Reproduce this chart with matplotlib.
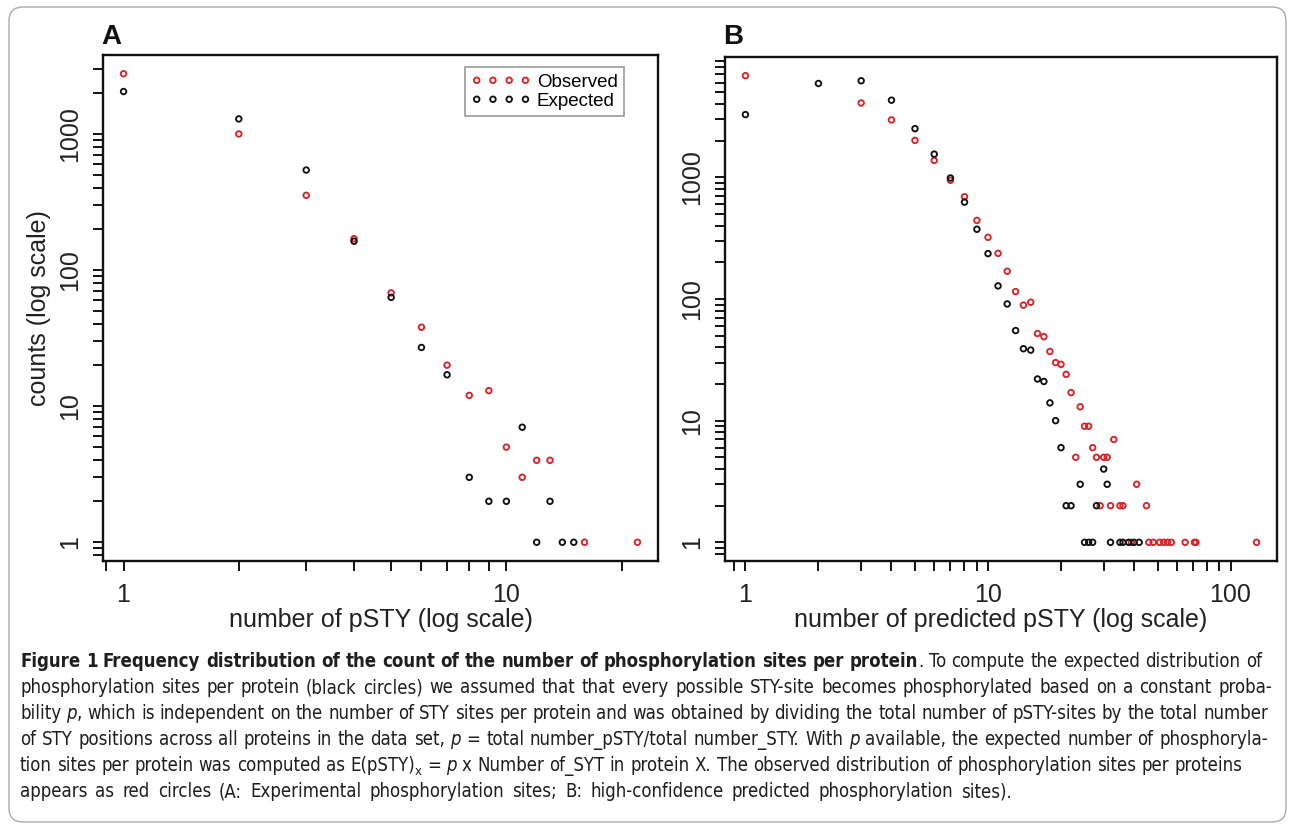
import numpy as np
import matplotlib
matplotlib.use('Agg')
import matplotlib.pyplot as plt
from matplotlib import font_manager
from matplotlib.patches import FancyBboxPatch
from matplotlib.transforms import IdentityTransform
from matplotlib.ticker import FixedLocator, NullFormatter

# panel A - experimental phosphorylation sites
a_obs_x = [1, 2, 3, 4, 5, 6, 7, 8, 9, 10, 11, 12, 13, 16, 22]
a_obs_y = [2770, 1000, 354, 170, 68, 38, 20, 12, 13, 5, 3, 4, 4, 1, 1]
a_exp_x = [1, 2, 3, 4, 5, 6, 7, 8, 9, 10, 11, 12, 13, 14, 15]
a_exp_y = [2050, 1290, 543, 163, 63, 27, 17, 3, 2, 2, 7, 1, 2, 1, 1]

# panel B - high-confidence predicted sites
b_obs_x = [1, 3, 4, 5, 6, 7, 8, 9, 10, 11, 12, 13, 14, 15, 16, 17, 18, 19, 20,
           21, 22, 23, 24, 25, 26, 27, 28, 29, 30, 31, 32, 33, 35, 36, 39, 41,
           45, 46, 48, 51, 53, 55, 57, 65, 71, 72, 128]
b_obs_y = [6840, 4080, 2960, 2010, 1375, 945, 692, 442, 321, 237, 169, 115, 89,
           94, 52, 49, 37, 30, 29, 24, 17, 5, 13, 9, 9, 6, 5, 2, 5, 5, 2, 7, 2,
           2, 1, 3, 2, 1, 1, 1, 1, 1, 1, 1, 1, 1, 1]
b_exp_x = [1, 2, 3, 4, 5, 6, 7, 8, 9, 10, 11, 12, 13, 14, 15, 16, 17, 18, 19,
           20, 21, 22, 24, 25, 26, 27, 28, 30, 31, 32, 35, 36, 38, 40, 42]
b_exp_y = [3275, 5900, 6210, 4300, 2510, 1550, 987, 625, 374, 236, 128, 91, 55,
           39, 38, 22, 21, 14, 10, 6, 2, 2, 3, 1, 1, 1, 2, 4, 3, 1, 1, 1, 1, 1, 1]

series_labels = ['Observed', 'Expected']
x_titles = ['number of pSTY (log scale)', 'number of predicted pSTY (log scale)']
y_title = 'counts (log scale)'
panel_tags = ['A', 'B']

caption_lines = [
    [('Figure 1 Frequency distribution of the count of the number of phosphorylation sites per protein', 'b'),
     ('. To compute the expected distribution of', 'n')],
    [('phosphorylation sites per protein (black circles) we assumed that that every possible STY-site '
      'becomes phosphorylated based on a constant proba-', 'n')],
    [('bility ', 'n'), ('p', 'i'),
     (', which is independent on the number of STY sites per protein and was obtained by dividing '
      'the total number of pSTY-sites by the total number', 'n')],
    [('of STY positions across all proteins in the data set, ', 'n'), ('p', 'i'),
     (' = total number_pSTY/total number_STY. With ', 'n'), ('p', 'i'),
     (' available, the expected number of phosphoryla-', 'n')],
    [('tion sites per protein was computed as E(pSTY)', 'n'), ('x', 's'), (' = ', 'n'), ('p', 'i'),
     (' x Number of_SYT in protein X. The observed distribution of phosphorylation sites per proteins', 'n')],
    [('appears as red circles (A: Experimental phosphorylation sites; B: high-confidence predicted '
      'phosphorylation sites).', 'n')],
]

RED = '#d8232a'
W, H = 1289, 824
plt.rcParams['font.family'] = ['Liberation Sans', 'DejaVu Sans']

fig = plt.figure(figsize=(W / 100, H / 100), dpi=100)


def px_axes(x0, y0, x1, y1):
    return fig.add_axes([x0 / W, 1 - y1 / H, (x1 - x0) / W, (y1 - y0) / H])


def r_limits(vals):
    lo, hi = np.log10(min(vals)), np.log10(max(vals))
    pad = 0.04 * (hi - lo)
    return 10 ** (lo - pad), 10 ** (hi + pad)


def log_ticks(lim):
    major = [10.0 ** k for k in range(-1, 5) if lim[0] <= 10.0 ** k <= lim[1]]
    minor = [m * 10.0 ** k for k in range(-1, 5) for m in range(2, 10)
             if lim[0] <= m * 10.0 ** k <= lim[1]]
    return major, minor


def panel(ax, ox, oy, ex, ey, xtitle):
    ax.scatter(ox, oy, s=16, facecolors='none', edgecolors=RED, linewidths=1.35,
               label=series_labels[0], zorder=3)
    ax.scatter(ex, ey, s=16, facecolors='none', edgecolors='#111111', linewidths=1.35,
               label=series_labels[1], zorder=4)
    ax.set_xscale('log')
    ax.set_yscale('log')
    xlim = r_limits(ox + ex)
    ylim = r_limits(oy + ey)
    ax.set_xlim(xlim)
    ax.set_ylim(ylim)
    xmaj, xmin = log_ticks(xlim)
    ymaj, ymin = log_ticks(ylim)
    ax.set_xticks(xmaj, ['%d' % v for v in xmaj])
    ax.set_yticks(ymaj, ['%d' % v for v in ymaj], rotation=90, va='center')
    ax.xaxis.set_minor_locator(FixedLocator(xmin))
    ax.yaxis.set_minor_locator(FixedLocator(ymin))
    ax.xaxis.set_minor_formatter(NullFormatter())
    ax.yaxis.set_minor_formatter(NullFormatter())
    ax.tick_params(which='both', direction='out', length=7, width=1.4,
                   labelsize=18, color='#111111', labelcolor='#222222')
    ax.tick_params(axis='x', pad=9)
    ax.tick_params(axis='y', pad=8)
    for sp in ax.spines.values():
        sp.set_linewidth(1.7)
        sp.set_color('#111111')
    ax.set_xlabel(xtitle, fontsize=18, color='#222222')
    ax.xaxis.set_label_coords(0.5, -0.117)
    ax.xaxis.label.set_va('center')


axA = px_axes(103, 55, 658, 561)
axB = px_axes(725, 57, 1277, 561)
panel(axA, a_obs_x, a_obs_y, a_exp_x, a_exp_y, x_titles[0])
panel(axB, b_obs_x, b_obs_y, b_exp_x, b_exp_y, x_titles[1])

axA.set_ylabel(y_title, fontsize=18, color='#222222')
axA.yaxis.set_label_coords(-0.115, 0.5)
axA.yaxis.label.set_va('center')

leg = axA.legend(loc='upper right', bbox_to_anchor=(0.939, 0.976), borderaxespad=0,
                 scatterpoints=4, scatteryoffsets=[0.5], handlelength=3.2,
                 handletextpad=0.3, labelspacing=0.1, borderpad=0.35,
                 fontsize=13.5, fancybox=False, framealpha=1)
leg.get_frame().set_edgecolor('#999999')
leg.get_frame().set_linewidth(1.2)

for tag, x0 in zip(panel_tags, [101, 723]):
    fig.text(x0 / W, 1 - 37 / H, tag, fontsize=20, weight='bold', va='center', ha='left',
             color='#111111')

# outer frame of the figure page
frame = FancyBboxPatch((9, 2), W - 12, H - 9, boxstyle='round,pad=0,rounding_size=14',
                       transform=IdentityTransform(), facecolor='none',
                       edgecolor='#aaaaaa', linewidth=1.0)
fig.patches.append(frame)

# caption, justified word by word
names = {f.name for f in font_manager.fontManager.ttflist}
cap_font = 'Liberation Sans Narrow' if 'Liberation Sans Narrow' in names else 'DejaVu Sans'
renderer = fig.canvas.get_renderer()
cap_left = 20
line_right = [1262, 1272, 1268, 1268, 1242, 1012]
probe = fig.text(0, 0, caption_lines[1][0][0], fontsize=10, family=cap_font, stretch='condensed')
cap_size = min(10 * 0.985 * (1272 - cap_left) / probe.get_window_extent(renderer).width, 14)
probe.remove()


def make_piece(txt, st, y):
    kw = dict(fontsize=cap_size, family=cap_font, color='#1e1e1e', stretch='condensed')
    if st == 'b':
        kw['weight'] = 'bold'
    if st == 'i':
        kw['style'] = 'italic'
    if st == 's':
        kw['fontsize'] = cap_size * 0.7
        y += 4
    t = fig.text(0, 1 - y / H, txt, va='baseline', ha='left', **kw)
    return t, t.get_window_extent(renderer).width


def words_of(segs):
    words = [[]]
    for txt, st in segs:
        for k, part in enumerate(txt.split(' ')):
            if k > 0:
                words.append([])
            if part:
                words[-1].append((part, st))
    return [w for w in words if w]


for i, segs in enumerate(caption_lines):
    y = 667 + i * 26
    items = [[make_piece(txt, st, y) for txt, st in w] for w in words_of(segs)]
    widths = [sum(wd for _, wd in it) for it in items]
    gap = (line_right[i] - cap_left - sum(widths)) / (len(items) - 1)
    x = cap_left
    for it, wsum in zip(items, widths):
        xx = x
        for t, wd in it:
            t.set_x(xx / W)
            xx += wd
        x += wsum + gap

fig.savefig('out.png', dpi=100)
